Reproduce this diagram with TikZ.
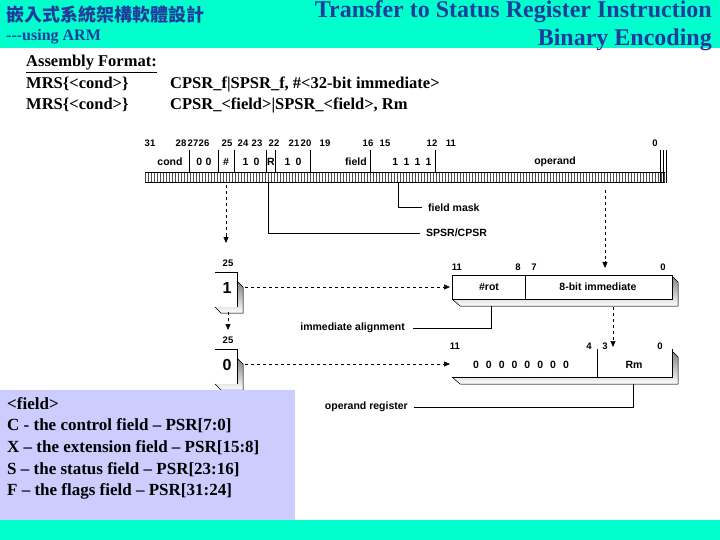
\documentclass[tikz,border=0pt]{standalone}
\usepackage{fontspec}
\setmainfont{Liberation Serif}
\newfontfamily\cjk{Noto Sans CJK TC}
\newfontfamily\dsans{Liberation Sans}
\usetikzlibrary{arrows.meta}
\definecolor{band}{HTML}{00FFCC}
\definecolor{ttl}{HTML}{1F3C9C}
\definecolor{lav}{HTML}{CCCCFF}
\definecolor{shade}{HTML}{C0C0C0}
\begin{document}
\begin{tikzpicture}[x=1pt,y=-1pt,
  lbl/.style={font=\dsans\bfseries\fontsize{10.5}{12}\selectfont,inner sep=0pt},
  bitn/.style={font=\dsans\bfseries\fontsize{9.5}{11}\selectfont,inner sep=0pt},
  conn/.style={line width=1pt},
  dsh/.style={dashed,line width=0.6pt,-{Triangle[length=6pt,width=5pt]}},
  dshp/.style={dashed,line width=0.6pt},
  txt/.style={font=\bfseries\fontsize{16.5}{18}\selectfont,inner sep=0pt,anchor=west}]
\useasboundingbox (0,0) rectangle (720,540);
\fill[white] (0,0) rectangle (720,540);
\fill[band] (0,0) rectangle (720,48);
\fill[band] (0,520) rectangle (720,540);
\node[font=\cjk\bfseries\fontsize{18}{20}\selectfont,text=ttl,anchor=west,inner sep=0pt] (cn) at (6,15) {嵌入式系統架構軟體設計};
\node[font=\bfseries\fontsize{16}{18}\selectfont,text=ttl,anchor=west,inner sep=0pt] (arm) at (6,37) {{-}{-}{-}using ARM};
\node[font=\bfseries\fontsize{24}{26}\selectfont,text=ttl,anchor=east,inner sep=0pt] (t1) at (712,12) {Transfer to Status Register Instruction};
\node[font=\bfseries\fontsize{24}{26}\selectfont,text=ttl,anchor=east,inner sep=0pt] (t2) at (712,40) {Binary Encoding};
\node[txt] (af) at (26,63) {Assembly Format:};
\draw[line width=0.8pt] ([yshift=-1.5pt]af.south west) -- ([yshift=-1.5pt]af.south east);
\node[txt] (m1) at (26,84) {MRS\{<cond>\}};
\node[txt] (m1b) at (170,84) {CPSR\_f|SPSR\_f, \#<32-bit immediate>};
\node[txt] (m2) at (26,105) {MRS\{<cond>\}};
\node[txt] (m2b) at (170,105) {CPSR\_<field>|SPSR\_<field>, Rm};
% top register
\foreach \x in {189,218,234,266,275,310,370,435} \draw[line width=0.6pt] (\x,150) -- (\x,172);
\draw[line width=0.6pt] (145,172) -- (665,172);
\foreach \i in {0,...,173} \draw[line width=0.3pt,black!70] (145+\i*3,173) -- (145+\i*3,182);
\draw[line width=0.6pt] (145,182) -- (665,182);
\foreach \x in {660,663,666} \draw[line width=0.6pt] (\x,150) -- (\x,183);
\foreach \x/\t in {150/31,181/28,193/27,204/26,227/25,243/24,257/23,274/22,294/21,306/20,325/19,368/16,385/15,432/12,451/11,655/0}
  \node[bitn] at (\x,143) {\t};
\node[lbl] (cond) at (170,162) {cond};
\node[lbl] at (204,162) {0\,\,0};
\node[lbl] (hash) at (226,162) {\#};
\node[lbl] at (251,162) {1\,\,\,0};
\node[lbl] (R) at (271,162) {R};
\node[lbl] at (293,162) {1\,\,\,0};
\node[lbl] (fld) at (356,162) {field};
\node[lbl] (ones) at (412,162) {1\,\,\,1\,\,\,1\,\,\,1};
\node[lbl] (opnd) at (555,162) {operand};
\node[lbl,anchor=west] (fm) at (428,208) {field mask};
\node[lbl,anchor=west] (sc) at (426,233) {SPSR/CPSR};
\draw[conn] (398,183) |- ([xshift=-6pt]fm.west);
\draw[conn] (268,183) |- ([xshift=-6pt]sc.west);
% bit-25 boxes
\foreach \y/\v/\n in {263/1/b1,340/0/b0}{
  \fill[shade] (237,\y+18) -- (243,\y+24) -- (243,\y+50) -- (221,\y+50) -- (215,\y+44) -- (237,\y+44) -- cycle;
  \draw[line width=0.5pt] (215,\y+44) -- (221,\y+50) -- (243,\y+50) -- (243,\y+24) -- (237,\y+18);
  \draw[line width=0.6pt] (215,\y+9) -- (237,\y+9) -- (237,\y+44);
  \node[bitn] at (228,\y) {25};
  \node[font=\dsans\bfseries\fontsize{16}{18}\selectfont,inner sep=0pt] (\n) at (227,\y+25) {\v};
}
\draw[dshp] (226,185) -- (226,238);
\draw[-{Triangle[length=6pt,width=5pt]}] (226,236) -- (226,243);
\draw[dsh] (228,312) -- (228,330);
% #rot box
\fill[shade] (672,276) -- (678,282) -- (678,306) -- (460,306) -- (452,299) -- (672,299) -- cycle;
\draw[line width=0.5pt] (452,299) -- (460,306) -- (678,306) -- (678,282) -- (672,276);
\draw[line width=0.6pt] (452,275) rectangle (672,299);
\draw[line width=0.6pt] (525,275) -- (525,299);
\node[lbl] (rot) at (489,287) {\#rot};
\node[lbl] (imm) at (598,287) {8-bit immediate};
\foreach \x/\t in {457/11,518/8,534/7,663/0} \node[bitn] at (\x,267) {\t};
% Rm box
\fill[shade] (672,351) -- (678,357) -- (678,384) -- (460,384) -- (452,377) -- (672,377) -- cycle;
\draw[line width=0.5pt] (452,377) -- (460,384) -- (678,384) -- (678,357) -- (672,351);
\draw[line width=0.6pt] (452,377) -- (672,377) -- (672,349);
\draw[line width=0.6pt] (597,349) -- (597,377);
\node[lbl] (zeros) at (521,365) {0\,\,\,\,0\,\,\,\,0\,\,\,\,0\,\,\,\,0\,\,\,\,0\,\,\,\,0\,\,\,\,0};
\node[lbl] (rm) at (634,365) {Rm};
\foreach \x/\t in {455/11,589/4,605/3,660/0} \node[bitn] at (\x,346) {\t};
% dashed arrows
\draw[dsh] (245,287) -- (450,287);
\draw[dsh] (245,364) -- (450,364);
\draw[dshp] (605,190) -- (605,262);
\draw[-{Triangle[length=6pt,width=5pt]}] (605,261) -- (605,268);
\draw[dsh] (613,307) -- (613,347);
% labels and leaders
\node[lbl,anchor=east] (ia) at (405,328) {immediate alignment};
\draw[conn] (491,306) |- ([xshift=8pt]ia.east);
\node[lbl,anchor=east] (or) at (408,407) {operand register};
\draw[line width=0.6pt] (633,384) |- ([xshift=6pt]or.east);
% field legend
\fill[lav] (0,390) rectangle (295,520);
\node[font=\bfseries\fontsize{17}{21.7}\selectfont,anchor=north west,align=left,inner sep=0pt] (leg) at (7,397) {<field>\\C - the control field -- PSR[7:0]\\X -- the extension field -- PSR[15:8]\\S -- the status field -- PSR[23:16]\\F -- the flags field -- PSR[31:24]};
\end{tikzpicture}
\end{document}
